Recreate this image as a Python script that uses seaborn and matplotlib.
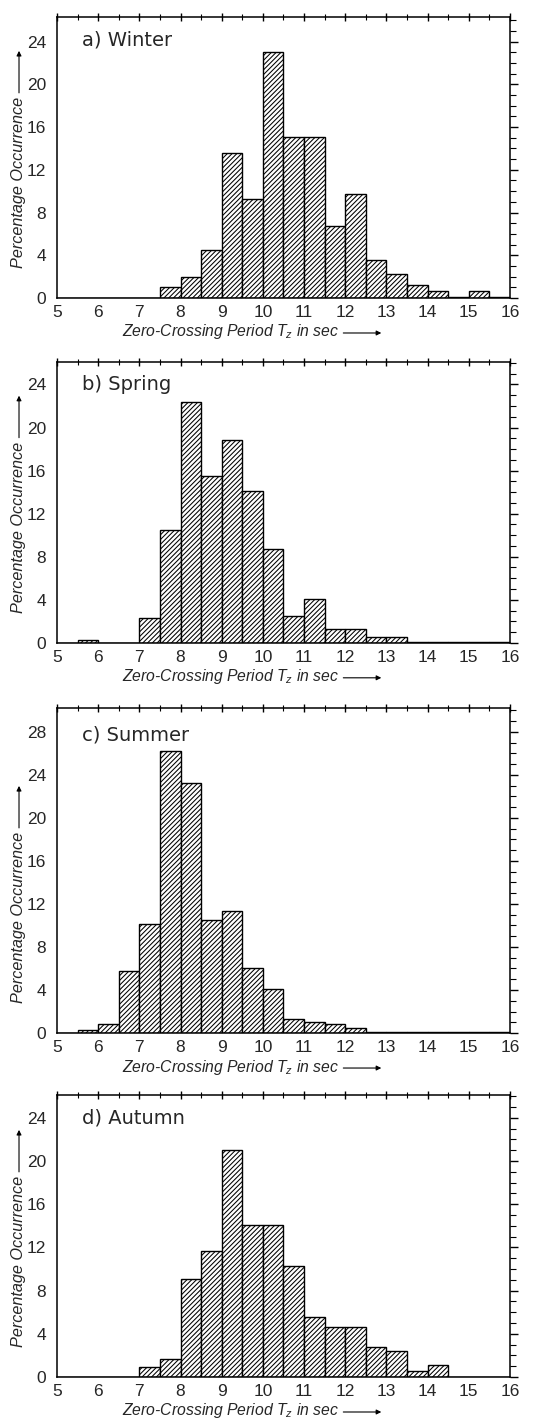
import numpy as np
import pandas as pd
import matplotlib
matplotlib.use("Agg")
import matplotlib.pyplot as plt
import seaborn as sns
from matplotlib.patches import FancyArrowPatch
from matplotlib.ticker import MultipleLocator
from matplotlib.transforms import offset_copy

# ── Data: percentage occurrence per 0.5 s class of Tz (5.0 ... 15.5 s) ──
bin_left = [5.0, 5.5, 6.0, 6.5, 7.0, 7.5, 8.0, 8.5, 9.0, 9.5, 10.0,
            10.5, 11.0, 11.5, 12.0, 12.5, 13.0, 13.5, 14.0, 14.5, 15.0, 15.5]
bin_width = 0.5

winter = [0, 0, 0, 0, 0, 1.0, 2.0, 4.5, 13.6, 9.3, 23.0,
          15.1, 15.1, 6.7, 9.7, 3.6, 2.2, 1.2, 0.7, 0.1, 0.7, 0.1]
spring = [0, 0.3, 0, 0, 2.3, 10.5, 22.4, 15.5, 18.8, 14.1, 8.7,
          2.5, 4.1, 1.3, 1.3, 0.5, 0.5, 0.1, 0.1, 0.1, 0.1, 0.1]
summer = [0, 0.3, 0.8, 5.8, 10.1, 26.2, 23.2, 10.5, 11.3, 6.0, 4.1,
          1.3, 1.0, 0.8, 0.5, 0.1, 0.1, 0.1, 0.1, 0.1, 0.1, 0.1]
autumn = [0, 0, 0, 0, 0.9, 1.7, 9.1, 11.7, 21.0, 14.1, 14.1,
          10.3, 5.6, 4.6, 4.6, 2.8, 2.4, 0.6, 1.1, 0, 0, 0]

titles = ["a) Winter", "b) Spring", "c) Summer", "d) Autumn"]
series = [winter, spring, summer, autumn]
y_tops = [26.3, 26.1, 30.2, 26.1]

# panel boxes in figure fractions (left, bottom, width, height)
boxes = [(0.1046, 0.790, 0.831, 0.198),
         (0.1046, 0.547, 0.831, 0.198),
         (0.1046, 0.272, 0.831, 0.229),
         (0.1046, 0.0296, 0.831, 0.1987)]

sns.set_style("white")
plt.rcParams["font.family"] = ["Liberation Sans", "DejaVu Sans"]
plt.rcParams["mathtext.fontset"] = "custom"
plt.rcParams["mathtext.it"] = "Liberation Sans:italic"
plt.rcParams["mathtext.rm"] = "Liberation Sans"
plt.rcParams["hatch.linewidth"] = 0.75

edges = [float(b) for b in bin_left] + [bin_left[-1] + bin_width]

fig = plt.figure(figsize=(5.45, 14.19), dpi=100)
label_texts = []
for title, vals, ytop, box in zip(titles, series, y_tops, boxes):
    ax = fig.add_axes(box)
    df = pd.DataFrame({"tz": np.array(bin_left) + bin_width / 2, "pct": vals})
    sns.histplot(data=df, x="tz", weights="pct", bins=edges, stat="count",
                 color="white", edgecolor="black", linewidth=1.0,
                 hatch="///////", alpha=1, ax=ax)
    ax.set_xlim(5, 16)
    ax.set_ylim(0, ytop)
    ax.set_xlabel(""); ax.set_ylabel("")
    ax.xaxis.set_major_locator(MultipleLocator(1))
    ax.xaxis.set_minor_locator(MultipleLocator(0.5))
    ax.yaxis.set_major_locator(MultipleLocator(4))
    ax.yaxis.set_minor_locator(MultipleLocator(1))
    ax.tick_params(axis="both", which="both", top=True, right=True,
                   color="black", labelsize=12.5, pad=2)
    ax.tick_params(axis="x", which="both", direction="inout")
    ax.tick_params(axis="y", which="both", direction="out")
    ax.tick_params(which="major", length=6, width=1.0)
    ax.tick_params(which="minor", length=4, width=0.8)
    for sp in ax.spines.values():
        sp.set_color("black"); sp.set_linewidth(1.1)

    ax.text(0.055, 0.918, title, transform=ax.transAxes, ha="left", va="center",
            fontsize=14, family=["DejaVu Sans"])
    # axis labels placed in pixels relative to the panel corner
    ty = ax.text(0, 0, "Percentage Occurrence",
                 transform=offset_copy(ax.transAxes, fig=fig, x=-39, y=30, units="dots"),
                 rotation=90, ha="center", va="bottom", fontsize=11.7, style="italic")
    tx = ax.text(0, 0, r"Zero-Crossing Period $T_z$ in sec",
                 transform=offset_copy(ax.transAxes, fig=fig, x=65, y=-34, units="dots"),
                 ha="left", va="center", fontsize=11.3, style="italic")
    label_texts.append((tx, ty))

# arrows following the axis labels
fig.canvas.draw()
renderer = fig.canvas.get_renderer()
arrow = dict(arrowstyle="-|>", color="black", lw=0.8, mutation_scale=7,
             shrinkA=0, shrinkB=0)
for tx, ty in label_texts:
    bx = tx.get_window_extent(renderer)
    yc = (bx.y0 + bx.y1) / 2 - 1
    fig.add_artist(FancyArrowPatch((bx.x1 + 4, yc), (bx.x1 + 42, yc),
                                   transform=None, **arrow))
    by = ty.get_window_extent(renderer)
    xc = (by.x0 + by.x1) / 2 + 1
    fig.add_artist(FancyArrowPatch((xc, by.y1 + 4), (xc, by.y1 + 46),
                                   transform=None, **arrow))

fig.savefig("out.png", dpi=100)
